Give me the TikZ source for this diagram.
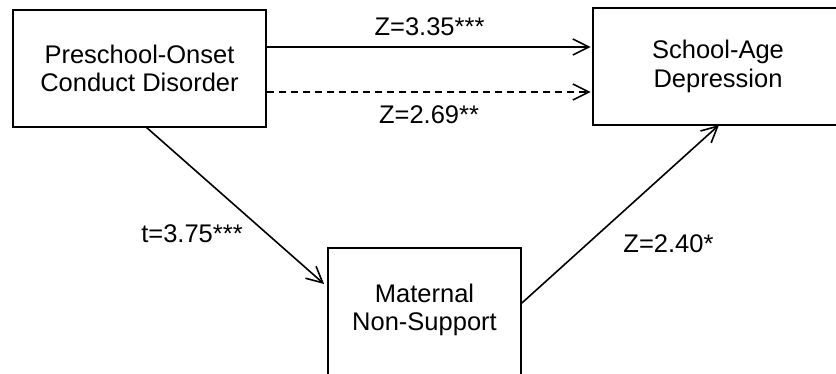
\documentclass[tikz,border=0pt]{standalone}
\usepackage{fontspec}
\setmainfont{Liberation Sans}
\usetikzlibrary{arrows.meta,calc}
\begin{document}
\begin{tikzpicture}[x=1pt,y=-1pt,
  box/.style={draw=black, line width=1.8pt, fill=none, inner sep=0pt, align=center,
    font=\fontsize{25.5}{28.5}\selectfont},
  lbl/.style={inner sep=0pt, align=center, font=\fontsize{25.5}{28.5}\selectfont},
  conn/.style={line width=1.6pt, -{Straight Barb[length=16pt,width=16pt,line width=1.6pt]}},
  dashconn/.style={conn, dash pattern=on 7pt off 5pt}
]
\useasboundingbox (0,0) rectangle (836,373);
\clip (0,0) rectangle (836,373);
% boxes
\node[box, minimum width=253pt, minimum height=117pt] (cd) at (139.5,68.5) {Preschool-Onset\\Conduct Disorder};
\node[box, minimum width=250pt, minimum height=117pt] (dep) at (718,66.5) {School-Age\\Depression};
\node[box, minimum width=193pt, minimum height=140pt, anchor=north] (mat) at (424.5,247) {};
\node[lbl] (matT) at (424.5,309.8) {Maternal\\Non-Support};
% connector end points
\coordinate (cdA) at (cd.east |- 0,47);
\coordinate (depA) at ([xshift=-1.5pt]dep.west |- 0,47);
\coordinate (cdB) at (cd.east |- 0,92);
\coordinate (depB) at ([xshift=-1.5pt]dep.west |- 0,92);
\coordinate (cdC) at (146,127);
\coordinate (matC) at ([xshift=-3pt]mat.west |- 0,284);
\coordinate (matD) at (mat.east |- 0,303);
\coordinate (depD) at (719,125);
% connectors
\draw[conn] (cdA) -- (depA);
\draw[dashconn] (cdB) -- (depB);
\draw[conn] (cdC) -- (matC);
\draw[conn] (matD) -- (depD);
% labels
\node[lbl, anchor=base] (z1) at (429.5,35) {Z=3.35***};
\node[lbl, anchor=base] (z2) at (429,123) {Z=2.69**};
\node[lbl, anchor=base] (t1) at (192,242) {t=3.75***};
\node[lbl, anchor=base] (z3) at (668.5,252) {Z=2.40*};
\end{tikzpicture}
\end{document}
